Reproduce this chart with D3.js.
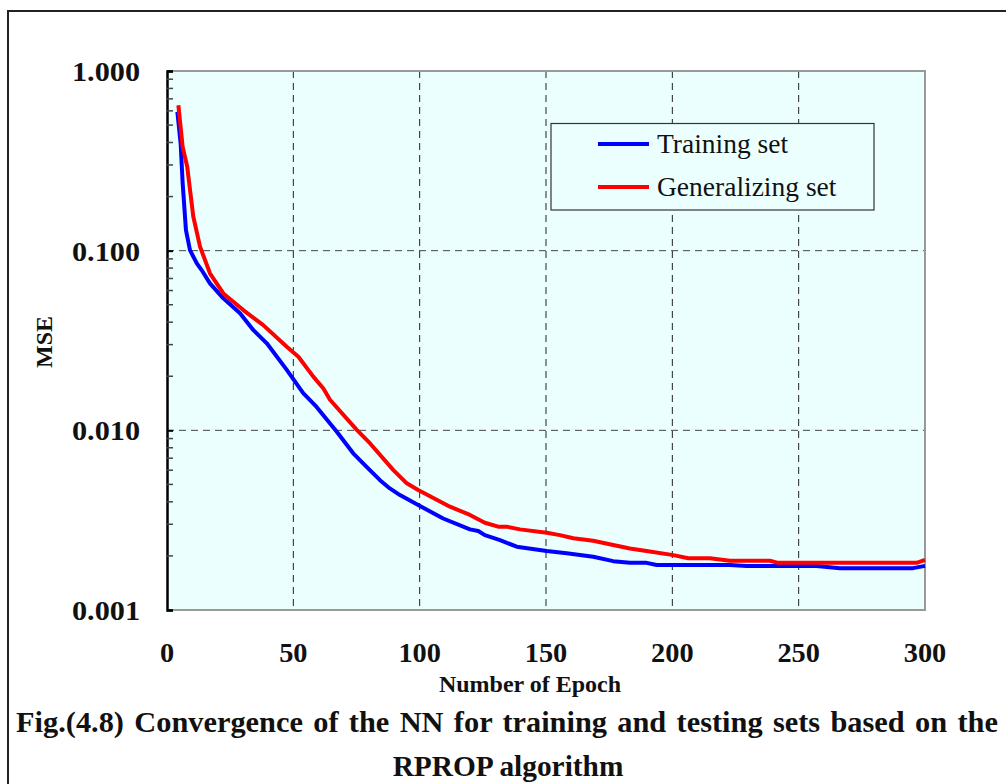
<!DOCTYPE html>
<html><head><meta charset="utf-8">
<script src="https://cdn.jsdelivr.net/npm/d3@7"></script>
<style>body{margin:0;background:#fff}svg{display:block}text{font-family:"Liberation Serif","Times New Roman",serif}</style>
</head><body><svg id="c" width="1006" height="784"></svg>
<script>
const trainEpoch = [4.1,5.4,6.2,7.5,9.1,11.8,13.7,17,22.3,28.9,34.2,39.5,47.4,53.9,59.2,67.2,73.7,79,84.3,88.2,92.2,99.4,109.3,119.9,123.2,125.8,131.8,138.4,150.3,158.2,168.7,176.6,183.2,189.8,193.8,222.8,229.4,257.1,266.3,295.3,300];
const trainMSE = [0.593,0.395,0.237,0.130,0.1006,0.0849,0.0780,0.0658,0.0543,0.0448,0.0361,0.0305,0.0217,0.0161,0.0135,0.00982,0.00745,0.00626,0.00528,0.00475,0.00436,0.00384,0.00323,0.00281,0.00275,0.00261,0.00245,0.00225,0.00213,0.00207,0.00198,0.00187,0.00183,0.00183,0.00178,0.00178,0.00176,0.00176,0.00171,0.00171,0.00176];
const genEpoch = [4.5,6.2,8,10.4,13.1,17,22.3,30.2,38.1,47.4,52,57.9,61.9,64.5,75.1,80.3,89.6,94.9,99.4,112,119.9,125.8,131.1,134.4,139.7,150.3,155.5,160.8,168.7,176.6,183.2,189.8,200.4,206.3,214.9,222.8,238.6,241.9,296.7,300];
const genMSE = [0.645,0.378,0.293,0.155,0.105,0.0748,0.0578,0.0467,0.0385,0.0292,0.0257,0.0199,0.0171,0.0148,0.01005,0.00848,0.00601,0.00507,0.00466,0.00376,0.00338,0.00306,0.00291,0.00291,0.00281,0.00269,0.00261,0.00251,0.00243,0.00230,0.00220,0.00213,0.00202,0.00194,0.00194,0.00188,0.00188,0.00183,0.00183,0.00190];
const xTicks = [0,50,100,150,200,250,300];
const yTicks = [0.001,0.01,0.1,1];
const seriesNames = ["Training set","Generalizing set"];
const seriesColors = ["#0000ff","#ff0000"];

const svg = d3.select("#c");
const L=167,R=925,T=71,B=610;
const x = d3.scaleLinear().domain([0,300]).range([L,R]);
const y = d3.scaleLog().domain([0.001,1]).range([B,T]);

svg.append("rect").attr("x",8).attr("y",11).attr("width",1010).attr("height",790)
  .attr("fill","none").attr("stroke","#222").attr("stroke-width",2);

svg.append("rect").attr("x",L).attr("y",T).attr("width",R-L).attr("height",B-T).attr("fill","#ecffff");

const g = svg.append("g");
g.selectAll(".vg").data(xTicks.filter(d=>d>0&&d<300)).join("line")
  .attr("x1",d=>x(d)).attr("x2",d=>x(d)).attr("y1",T).attr("y2",B)
  .attr("stroke","#222").attr("stroke-width",1).attr("stroke-dasharray","7,5");
g.selectAll(".hg").data(yTicks.filter(d=>d>0.001&&d<1)).join("line")
  .attr("x1",L).attr("x2",R).attr("y1",d=>y(d)).attr("y2",d=>y(d))
  .attr("stroke","#444").attr("stroke-width",1).attr("stroke-dasharray","7,5");

svg.append("path").attr("d",`M${L},${T}H${R}V${B}H${L}`).attr("fill","none").attr("stroke","#999").attr("stroke-width",2);

const yAxis = d3.axisRight(y).tickValues(yTicks).tickSize(6).tickFormat("");
const ya = svg.append("g").attr("transform",`translate(${L},0)`).call(yAxis);
ya.select(".domain").attr("stroke","#000").attr("stroke-width",2.5);
ya.selectAll(".tick line").attr("stroke","#000").attr("stroke-width",2);
const minor = [];
for (const dec of [0.001,0.01,0.1]) for (let k=2;k<=9;k++) minor.push(dec*k);
svg.append("g").selectAll("line").data(minor).join("line")
  .attr("x1",L).attr("x2",L+6).attr("y1",d=>y(d)).attr("y2",d=>y(d))
  .attr("stroke","#444").attr("stroke-width",1.5);

svg.append("g").selectAll("text").data(yTicks).join("text")
  .attr("transform",d=>`translate(140,${y(d)+10}) scale(1.08,1)`).attr("text-anchor","end")
  .attr("font-size",28).attr("font-weight","bold").attr("fill","#111")
  .text(d3.format(".3f"));
svg.append("g").selectAll("text").data(xTicks).join("text")
  .attr("transform",d=>`translate(${x(d)},662) scale(1.05,1)`).attr("text-anchor","middle")
  .attr("font-size",27).attr("font-weight","bold").attr("fill","#111")
  .text(d=>d);

const line = d3.line().x(d=>x(d[0])).y(d=>y(d[1])).curve(d3.curveLinear);
const series = [d3.zip(trainEpoch,trainMSE), d3.zip(genEpoch,genMSE)];
series.forEach((s,i)=>{
  svg.append("path").datum(s).attr("d",line).attr("fill","none").attr("stroke",seriesColors[i])
    .attr("stroke-width",4).attr("stroke-linejoin","round");
});

const lg = svg.append("g");
lg.append("rect").attr("x",551).attr("y",123.5).attr("width",323).attr("height",86.5)
  .attr("fill","#ecffff").attr("stroke","#333").attr("stroke-width",1.2);
seriesNames.forEach((n,i)=>{
  const yy = 144 + i*43;
  lg.append("line").attr("x1",598).attr("x2",649).attr("y1",yy).attr("y2",yy)
    .attr("stroke",seriesColors[i]).attr("stroke-width",4);
  lg.append("text").attr("x",657).attr("y",yy+9).attr("font-size",27.5).attr("fill","#111").text(n);
});

svg.append("text").attr("x",530).attr("y",692).attr("text-anchor","middle")
  .attr("font-size",24).attr("font-weight","bold").attr("fill","#111").text("Number of Epoch");
svg.append("text").attr("transform","translate(52,342) rotate(-90)").attr("text-anchor","middle")
  .attr("font-size",24).attr("font-weight","bold").attr("fill","#111").text("MSE");

svg.append("text").attr("transform","translate(507,732) scale(1.065,1)").attr("text-anchor","middle")
  .attr("font-size",28.5).attr("font-weight","bold").attr("fill","#111").attr("word-spacing",2.6)
  .text("Fig.(4.8) Convergence of the NN for training and testing sets based on the");
svg.append("text").attr("transform","translate(508,776) scale(1.03,1)").attr("text-anchor","middle")
  .attr("font-size",28.5).attr("font-weight","bold").attr("fill","#111")
  .text("RPROP algorithm");
</script></body></html>
